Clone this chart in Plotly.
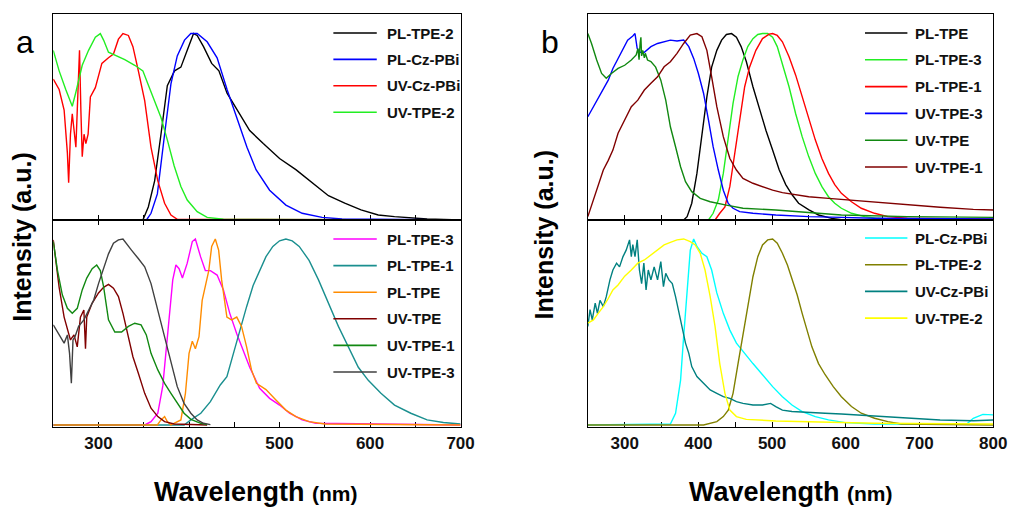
import plotly.graph_objects as go

# ---------------- data: panel a, top ----------------
A_PL_TPE2_X = [250, 349, 355, 362, 369, 376, 384, 391, 398, 405, 409, 416, 425, 433, 442, 453, 467, 482, 500, 518, 536, 554, 572, 590, 609, 627, 663, 700]
A_PL_TPE2_Y = [0, 0, 0.07, 0.21, 0.46, 0.72, 0.80, 0.82, 0.91, 1.0, 0.99, 0.93, 0.84, 0.80, 0.68, 0.59, 0.48, 0.41, 0.33, 0.27, 0.20, 0.13, 0.09, 0.054, 0.027, 0.018, 0.005, 0]
A_PL_CZ_X = [250, 353, 358, 365, 373, 380, 387, 395, 402, 409, 420, 431, 442, 453, 464, 474, 489, 507, 525, 547, 569, 700]
A_PL_CZ_Y = [0, 0, 0.036, 0.14, 0.46, 0.73, 0.88, 0.965, 1.0, 1.0, 0.956, 0.87, 0.70, 0.54, 0.39, 0.27, 0.16, 0.08, 0.036, 0.014, 0.005, 0]
A_UV_CZ_X = [250, 256.5, 262, 265.6, 267, 269, 271, 273, 275, 277.6, 279, 280.5, 282, 284, 286, 288.5, 291, 296.5, 303.7, 311, 316.5, 322, 327, 333, 338, 344, 351, 358, 365.5, 373, 380, 387, 700]
A_UV_CZ_Y = [0.756, 0.70, 0.59, 0.36, 0.20, 0.46, 0.57, 0.46, 0.39, 0.73, 0.91, 0.59, 0.34, 0.46, 0.41, 0.46, 0.66, 0.71, 0.84, 0.87, 0.89, 0.97, 1.0, 0.99, 0.93, 0.80, 0.64, 0.39, 0.21, 0.09, 0.027, 0.004, 0]
A_UV_TPE2_X = [250, 256.5, 263.8, 271, 274.7, 278, 282, 289, 296.5, 302, 305.6, 311, 318, 329, 340, 349, 354.6, 362, 369, 376, 383.6, 391, 398, 409, 420, 438, 700]
A_UV_TPE2_Y = [0.91, 0.80, 0.70, 0.61, 0.68, 0.75, 0.83, 0.91, 0.98, 1.0, 0.965, 0.90, 0.885, 0.86, 0.83, 0.80, 0.73, 0.64, 0.55, 0.43, 0.29, 0.18, 0.107, 0.045, 0.014, 0.004, 0]

# ---------------- data: panel a, bottom ----------------
A_PL_TPE3_X = [250, 351, 358, 365.5, 371, 376, 382, 385.5, 389, 392.7, 398, 403.6, 407, 412.7, 418, 423.6, 431, 438, 445, 452.7, 460, 467, 478, 489, 500, 511, 525, 540, 700]
A_PL_TPE3_Y = [0, 0, 0.018, 0.063, 0.21, 0.475, 0.78, 0.86, 0.84, 0.79, 0.87, 0.986, 1.0, 0.905, 0.83, 0.83, 0.806, 0.726, 0.60, 0.49, 0.40, 0.31, 0.197, 0.143, 0.107, 0.063, 0.027, 0.009, 0]
A_PL_TPE1_X = [250, 394.5, 402, 413, 423.6, 434.5, 441.8, 449, 456, 463.6, 470.8, 478, 485, 492.6, 500, 507, 514, 521.7, 532.6, 543, 554, 565, 576, 587, 598, 612, 627, 645, 663, 681, 700]
A_PL_TPE1_Y = [0, 0, 0.027, 0.063, 0.125, 0.215, 0.26, 0.385, 0.51, 0.636, 0.75, 0.83, 0.905, 0.96, 0.99, 1.0, 0.99, 0.96, 0.885, 0.78, 0.654, 0.53, 0.42, 0.31, 0.24, 0.17, 0.107, 0.063, 0.027, 0.013, 0.005]
A_PL_TPE_X = [250, 365, 369, 373, 376, 380, 391, 396, 400, 403.6, 407, 411, 414.5, 418, 421.8, 425, 429, 432.7, 436, 441.8, 447, 452.7, 458, 463.6, 469, 474.5, 485, 496, 507, 518, 532.6, 550, 700]
A_PL_TPE_Y = [0, 0, 0.027, 0.045, 0.018, 0, 0.027, 0.17, 0.385, 0.45, 0.41, 0.475, 0.67, 0.74, 0.83, 0.96, 1.0, 0.94, 0.78, 0.58, 0.565, 0.58, 0.53, 0.42, 0.296, 0.224, 0.19, 0.134, 0.08, 0.045, 0.018, 0.005, 0]
A_UV_TPE_X = [250, 253, 256.5, 262, 265.6, 269, 272.9, 276.5, 280, 283.8, 285.6, 287, 292.9, 300, 305.6, 311, 316.5, 322, 327, 333, 338, 344, 351, 358, 365.5, 373, 383.6, 420]
A_UV_TPE_Y = [0.995, 0.89, 0.74, 0.58, 0.51, 0.457, 0.484, 0.42, 0.58, 0.618, 0.41, 0.58, 0.654, 0.71, 0.74, 0.756, 0.735, 0.69, 0.60, 0.475, 0.367, 0.278, 0.17, 0.09, 0.045, 0.018, 0.005, 0]
A_UV_TPE1_X = [250, 254.7, 260, 265.6, 271, 276.5, 282, 287, 293, 298, 302, 305.6, 311, 318, 325.5, 333, 340, 347, 352.8, 358, 365.5, 373, 380, 387, 394.5, 402, 413, 420]
A_UV_TPE1_Y = [0.986, 0.83, 0.70, 0.627, 0.60, 0.627, 0.726, 0.79, 0.84, 0.86, 0.83, 0.744, 0.565, 0.50, 0.50, 0.53, 0.547, 0.538, 0.484, 0.385, 0.296, 0.224, 0.17, 0.116, 0.063, 0.03, 0.009, 0.002]
A_UV_TPE3_X = [250, 256.5, 262, 265.6, 268, 270, 271.8, 274, 278, 283.8, 289, 294.7, 300, 305.6, 311, 316.5, 322, 327, 331, 336.4, 343.7, 351, 358, 365.5, 373, 380, 387, 394.5, 402, 409, 416, 423.6]
A_UV_TPE3_Y = [0.538, 0.484, 0.44, 0.484, 0.385, 0.224, 0.457, 0.475, 0.53, 0.565, 0.618, 0.672, 0.76, 0.84, 0.92, 0.977, 0.995, 1.0, 0.977, 0.94, 0.896, 0.85, 0.76, 0.618, 0.475, 0.33, 0.206, 0.116, 0.063, 0.027, 0.009, 0.002]

# ---------------- data: panel b, top ----------------
B_PL_TPE_X = [250, 380, 384.7, 391, 398, 404.8, 411.5, 418, 425, 431.5, 438, 445, 451.6, 458, 465, 474, 483, 491.7, 500.7, 509.6, 518.5, 527.4, 536, 550, 563, 581, 594, 800]
B_PL_TPE_Y = [0, 0, 0.018, 0.09, 0.25, 0.465, 0.66, 0.82, 0.91, 0.965, 0.995, 1.0, 0.98, 0.93, 0.85, 0.715, 0.59, 0.48, 0.375, 0.27, 0.19, 0.134, 0.09, 0.054, 0.027, 0.009, 0.002, 0]
B_PL_TPE3_X = [250, 413.7, 420, 427, 433.8, 440.5, 447, 453.8, 460.5, 467, 474, 480.6, 487, 494, 500.7, 507, 514, 523, 532, 540.8, 549.7, 558.6, 567.6, 576.5, 585, 594, 607.7, 625.6, 643, 661, 800]
B_PL_TPE3_Y = [0, 0, 0.036, 0.107, 0.25, 0.43, 0.625, 0.77, 0.86, 0.93, 0.973, 0.995, 1.0, 1.0, 0.98, 0.93, 0.84, 0.715, 0.57, 0.447, 0.34, 0.25, 0.179, 0.125, 0.09, 0.063, 0.036, 0.018, 0.009, 0.004, 0]
B_PL_TPE1_X = [250, 422.6, 429, 436, 442.7, 449, 456, 462.8, 469.4, 478, 487, 496, 500.7, 507, 514, 523, 532, 540.8, 549.7, 558.6, 567.6, 576.5, 585, 594, 607.7, 621, 639, 657, 683.5, 800]
B_PL_TPE1_Y = [0, 0, 0.036, 0.07, 0.18, 0.34, 0.536, 0.715, 0.82, 0.91, 0.973, 0.997, 1.0, 0.99, 0.956, 0.876, 0.777, 0.66, 0.545, 0.43, 0.33, 0.25, 0.19, 0.143, 0.098, 0.063, 0.036, 0.018, 0.009, 0.004]
B_UV_TPE3_X = [250, 257.6, 264, 271, 277.7, 284, 291, 297.7, 304, 311, 314, 317, 320, 326.7, 335.6, 344.6, 353.5, 362, 371, 380, 387, 393.6, 400, 407, 413.7, 420, 427, 433.8, 440.5, 447, 456, 474, 505, 550, 594, 639, 800]
B_UV_TPE3_Y = [0.554, 0.608, 0.652, 0.697, 0.75, 0.813, 0.867, 0.92, 0.965, 0.987, 1.0, 0.92, 0.90, 0.90, 0.93, 0.947, 0.956, 0.965, 0.96, 0.965, 0.93, 0.867, 0.786, 0.68, 0.536, 0.393, 0.268, 0.16, 0.089, 0.063, 0.045, 0.036, 0.027, 0.018, 0.014, 0.009, 0.005]
B_UV_TPE_X = [250, 255, 262, 268.7, 275, 282, 291, 300, 309, 315.6, 318, 319.5, 321, 322, 323, 324.5, 326.7, 328, 331, 335.6, 342, 349, 355.7, 362, 369, 375.8, 382.5, 391, 402.5, 416, 438, 460.5, 505, 550, 594, 683.5, 800]
B_UV_TPE_Y = [1.0, 0.947, 0.858, 0.786, 0.76, 0.786, 0.813, 0.83, 0.858, 0.885, 0.92, 0.86, 0.95, 0.98, 0.88, 0.91, 0.87, 0.894, 0.858, 0.85, 0.82, 0.75, 0.643, 0.50, 0.393, 0.286, 0.206, 0.152, 0.116, 0.098, 0.08, 0.063, 0.054, 0.04, 0.027, 0.018, 0.014]
B_UV_TPE1_X = [250, 253, 257.6, 264, 271, 277.7, 284, 291, 300, 309, 317.8, 326.7, 335.6, 344.6, 353.5, 362, 371, 380, 389, 398, 404.8, 411.5, 418, 425, 433.8, 442.7, 451.6, 460.5, 474, 487, 500.7, 514, 532, 549.7, 576.5, 603, 630, 657, 683.5, 728, 773, 800]
B_UV_TPE1_Y = [0.018, 0.054, 0.107, 0.188, 0.268, 0.32, 0.375, 0.465, 0.536, 0.608, 0.643, 0.697, 0.733, 0.768, 0.822, 0.849, 0.894, 0.947, 0.992, 1.0, 0.983, 0.91, 0.768, 0.608, 0.447, 0.33, 0.268, 0.223, 0.197, 0.18, 0.16, 0.147, 0.134, 0.125, 0.116, 0.107, 0.098, 0.09, 0.08, 0.068, 0.057, 0.054]

# ---------------- data: panel b, bottom ----------------
B_PL_CZ_X = [250, 362, 369, 375.8, 380, 384.7, 389, 393.6, 398, 404.8, 411.5, 418, 425, 433.8, 442.7, 451.6, 460.5, 474, 487, 500.7, 514, 527, 540.8, 558.6, 576.5, 599, 639, 764, 773, 786, 800]
B_PL_CZ_Y = [0, 0.005, 0.063, 0.24, 0.475, 0.74, 0.94, 1.0, 0.96, 0.923, 0.905, 0.833, 0.71, 0.60, 0.51, 0.44, 0.394, 0.33, 0.27, 0.206, 0.152, 0.107, 0.072, 0.045, 0.027, 0.0125, 0.005, 0.005, 0.036, 0.057, 0.054]
B_PL_TPE2_X = [250, 407, 425, 433.8, 440.5, 447, 453.8, 460.5, 467, 474, 480.6, 487, 494, 500.7, 507, 514, 520.8, 527, 534, 540.8, 547.5, 554, 563, 572, 583, 594, 607.7, 621, 639, 657, 675, 800]
B_PL_TPE2_Y = [0, 0, 0.018, 0.045, 0.08, 0.17, 0.33, 0.49, 0.654, 0.797, 0.905, 0.968, 0.995, 1.0, 0.977, 0.923, 0.86, 0.79, 0.70, 0.60, 0.51, 0.42, 0.33, 0.27, 0.206, 0.152, 0.099, 0.063, 0.036, 0.018, 0.005, 0]
B_UV_CZ_X = [250, 253, 256, 260, 263, 266.5, 271, 275, 280, 284, 289, 293, 297.7, 302, 306.6, 309, 311, 314, 317, 320, 323, 326, 329, 332, 335.6, 340, 344.6, 349, 352.6, 355.7, 360, 364.6, 369, 373.5, 378, 382.5, 387, 391, 398, 407, 416, 425, 433.8, 442.7, 451.6, 460.5, 474, 487, 498, 505, 514, 527, 550, 572, 594, 616, 639, 683.5, 728, 773, 800]
B_UV_CZ_Y = [0.53, 0.62, 0.565, 0.655, 0.60, 0.67, 0.636, 0.69, 0.78, 0.833, 0.87, 0.85, 0.905, 0.94, 0.995, 0.905, 0.97, 0.905, 0.995, 0.833, 0.76, 0.87, 0.726, 0.833, 0.78, 0.85, 0.78, 0.878, 0.744, 0.815, 0.78, 0.76, 0.69, 0.60, 0.53, 0.44, 0.385, 0.314, 0.26, 0.224, 0.188, 0.17, 0.152, 0.143, 0.125, 0.116, 0.107, 0.107, 0.116, 0.099, 0.08, 0.072, 0.066, 0.063, 0.059, 0.054, 0.048, 0.036, 0.027, 0.023, 0.027]
B_UV_TPE2_X = [250, 257.6, 264, 271, 277.7, 284, 291, 300, 309, 317.8, 326.7, 335.6, 344.6, 353.5, 362, 371, 380, 389, 395.7, 402.5, 409, 416, 422.6, 429, 436, 442.7, 451.6, 465, 505, 550, 594, 639, 800]
B_UV_TPE2_Y = [0.547, 0.565, 0.60, 0.636, 0.68, 0.726, 0.753, 0.80, 0.833, 0.87, 0.887, 0.914, 0.94, 0.968, 0.982, 0.995, 1.0, 0.986, 0.968, 0.923, 0.833, 0.69, 0.53, 0.33, 0.17, 0.08, 0.045, 0.03, 0.0215, 0.016, 0.0125, 0.009, 0.005]

# ---------------- series per subplot (legend order) ----------------
PANELS = {
    "a_top": [("PL-TPE-2", A_PL_TPE2_X, A_PL_TPE2_Y, "#000000"),
              ("PL-Cz-PBi", A_PL_CZ_X, A_PL_CZ_Y, "#0000ff"),
              ("UV-Cz-PBi", A_UV_CZ_X, A_UV_CZ_Y, "#ff0000"),
              ("UV-TPE-2", A_UV_TPE2_X, A_UV_TPE2_Y, "#22ee22")],
    "a_bot": [("PL-TPE-3", A_PL_TPE3_X, A_PL_TPE3_Y, "#ff00ff"),
              ("PL-TPE-1", A_PL_TPE1_X, A_PL_TPE1_Y, "#1a8f8f"),
              ("PL-TPE", A_PL_TPE_X, A_PL_TPE_Y, "#ff8c00"),
              ("UV-TPE", A_UV_TPE_X, A_UV_TPE_Y, "#800000"),
              ("UV-TPE-1", A_UV_TPE1_X, A_UV_TPE1_Y, "#118811"),
              ("UV-TPE-3", A_UV_TPE3_X, A_UV_TPE3_Y, "#404040")],
    "b_top": [("PL-TPE", B_PL_TPE_X, B_PL_TPE_Y, "#000000"),
              ("PL-TPE-3", B_PL_TPE3_X, B_PL_TPE3_Y, "#22ee22"),
              ("PL-TPE-1", B_PL_TPE1_X, B_PL_TPE1_Y, "#ff0000"),
              ("UV-TPE-3", B_UV_TPE3_X, B_UV_TPE3_Y, "#0000ff"),
              ("UV-TPE", B_UV_TPE_X, B_UV_TPE_Y, "#118811"),
              ("UV-TPE-1", B_UV_TPE1_X, B_UV_TPE1_Y, "#800000")],
    "b_bot": [("PL-Cz-PBi", B_PL_CZ_X, B_PL_CZ_Y, "#00ffff"),
              ("PL-TPE-2", B_PL_TPE2_X, B_PL_TPE2_Y, "#808000"),
              ("UV-Cz-PBi", B_UV_CZ_X, B_UV_CZ_Y, "#008080"),
              ("UV-TPE-2", B_UV_TPE2_X, B_UV_TPE2_Y, "#ffff00")],
}

W, H = 1022, 508
def px(x):
    return x / W
def py(y):
    return 1 - y / H

# layout geometry (pixels)
A_L, A_R = 54, 467
B_L, B_R = 596, 1007
TOP, MID, BOT = 14, 220, 427

AXES = {
    "a_top": ("x", "y", (A_L, A_R), (MID, TOP), [0, 1.105], [250, 700], False),
    "a_bot": ("x2", "y2", (A_L, A_R), (BOT, MID), [-0.011, 1.102], [250, 700], True),
    "b_top": ("x3", "y3", (B_L, B_R), (MID, TOP), [0, 1.105], [250, 800], False),
    "b_bot": ("x4", "y4", (B_L, B_R), (BOT, MID), [-0.011, 1.102], [250, 800], True),
}

FONT = "Liberation Sans, Arial, sans-serif"
fig = go.Figure()
layout = dict(width=W, height=H, margin=dict(l=0, r=0, t=0, b=0),
              paper_bgcolor="white", plot_bgcolor="white", showlegend=False)
annotations = []
shapes = []

LEG = {  # legend: line start, line end, text x, first row y, row step
    "a_top": (338, 382, 390, 33, 26.4),
    "a_bot": (338, 382, 390, 239, 26.6),
    "b_top": (877, 920, 926, 33, 26.8),
    "b_bot": (877, 920, 926, 238, 26.7),
}

for key, series in PANELS.items():
    xa, ya, (xl, xr), (yb, yt), yr, xrng, labels = AXES[key]
    xname = "xaxis" + xa[1:]
    yname = "yaxis" + ya[1:]
    layout[xname] = dict(domain=[px(xl), px(xr)], range=xrng, anchor=ya,
                         showline=True, linecolor="black", linewidth=1.3, mirror=("ticks" if labels else True),
                         ticks="inside", ticklen=5, tickwidth=1, tickcolor="black",
                         tick0=300, dtick=100, tickprefix="<b>", ticksuffix="</b>",
                         minor=dict(dtick=50, tick0=250, ticks="inside", ticklen=5, tickwidth=1, tickcolor="black"),
                         showticklabels=labels, showgrid=False, zeroline=False,
                         tickfont=dict(family=FONT, size=17, color="#111"),
                         layer="below traces")
    layout[yname] = dict(domain=[py(yb), py(yt)], range=yr, anchor=xa,
                         showline=True, linecolor="black", linewidth=1.3, mirror=True,
                         ticks="", showticklabels=False, showgrid=False, zeroline=False,
                         layer="below traces")
    for name, xs, ys, col in series:
        fig.add_trace(go.Scatter(x=xs, y=ys, mode="lines", name=name, xaxis=xa, yaxis=ya,
                                 line=dict(color=col, width=1.4)))
    l0, l1, tx, y0, dy = LEG[key]
    for i, (name, xs, ys, col) in enumerate(series):
        yy = y0 + i * dy
        shapes.append(dict(type="line", xref="paper", yref="paper", x0=px(l0), x1=px(l1),
                           y0=py(yy), y1=py(yy), line=dict(color=col, width=1.6)))
        annotations.append(dict(xref="paper", yref="paper", x=px(tx), y=py(yy), text="<b>" + name + "</b>",
                                showarrow=False, xanchor="left", yanchor="middle",
                                font=dict(family=FONT, size=15, color="#111")))

# panel letters
annotations.append(dict(xref="paper", yref="paper", x=px(25), y=py(42), text="a", showarrow=False,
                        xanchor="center", yanchor="middle", font=dict(family=FONT, size=32, color="black")))
annotations.append(dict(xref="paper", yref="paper", x=px(558), y=py(42), text="b", showarrow=False,
                        xanchor="center", yanchor="middle", font=dict(family=FONT, size=32, color="black")))
# y titles
for xc, yc in [(22, 237), (552, 235)]:
    annotations.append(dict(xref="paper", yref="paper", x=px(xc), y=py(yc), text="<b>Intensity (a.u.)</b>",
                            showarrow=False, textangle=-90, xanchor="center", yanchor="middle",
                            font=dict(family=FONT, size=25, color="black")))
# x titles
for xc in [(152 + 367) / 2, (695 + 908) / 2]:
    annotations.append(dict(xref="paper", yref="paper", x=px(xc), y=py(492), showarrow=False,
                            text="<b>Wavelength <span style='font-size:21px'>(nm)</span></b>",
                            xanchor="center", yanchor="middle",
                            font=dict(family=FONT, size=27, color="black")))

layout["annotations"] = annotations
layout["shapes"] = shapes
fig.update_layout(**layout)
fig.write_html("out.html")
